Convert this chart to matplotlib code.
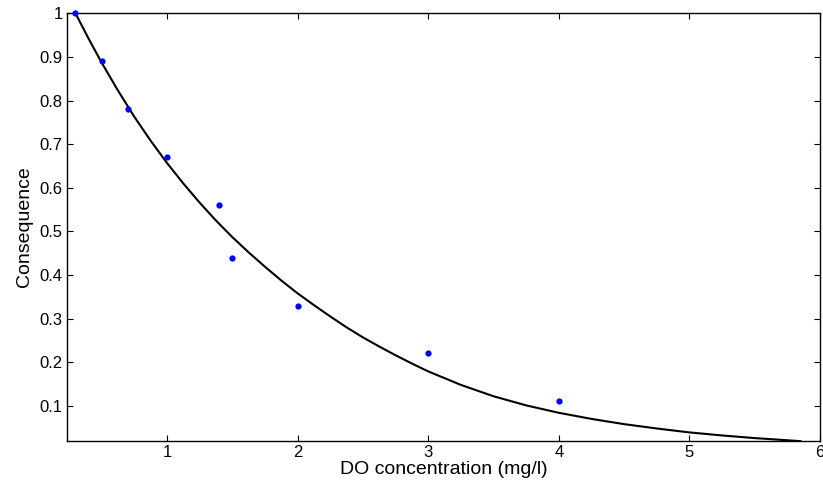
import matplotlib
matplotlib.use("Agg")
import matplotlib.pyplot as plt

plt.rcParams['font.family'] = ['Liberation Sans', 'DejaVu Sans']

# measured points
do_conc = [0.3, 0.5, 0.7, 1.0, 1.4, 1.5, 2.0, 3.0, 4.0]
consequence = [1.0, 0.89, 0.78, 0.67, 0.56, 0.44, 0.33, 0.22, 0.11]

# fitted curve
fit_x = [0.3, 0.4, 0.5, 0.625, 0.75, 0.875, 1.0, 1.125, 1.25, 1.375, 1.5,
         1.625, 1.75, 1.875, 2.0, 2.125, 2.25, 2.375, 2.5, 2.625, 2.75,
         2.875, 3.0, 3.25, 3.5, 3.75, 4.0, 4.25, 4.5, 4.75, 5.0, 5.25,
         5.5, 5.85]
fit_y = [1.0, 0.942, 0.887, 0.823, 0.763, 0.708, 0.657, 0.610, 0.566, 0.525,
         0.487, 0.452, 0.419, 0.3875, 0.358, 0.331, 0.305, 0.280, 0.257,
         0.236, 0.216, 0.197, 0.179, 0.148, 0.122, 0.101, 0.084, 0.070,
         0.058, 0.048, 0.039, 0.032, 0.026, 0.019]

xticks = [1, 2, 3, 4, 5, 6]
yticks = [0.1, 0.2, 0.3, 0.4, 0.5, 0.6, 0.7, 0.8, 0.9, 1]
ytick_labels = ['0.1', '0.2', '0.3', '0.4', '0.5', '0.6', '0.7', '0.8', '0.9', '1']

fig = plt.figure(figsize=(8.23, 4.84), dpi=100)
ax = fig.add_axes([67 / 823, 1 - 440.7 / 484, 753 / 823, 427.4 / 484])

ax.plot(fit_x, fit_y, color='black', linewidth=1.5, zorder=2)
ax.plot(do_conc, consequence, linestyle='none', marker='o', markersize=4.5,
        color='blue', markeredgewidth=0, zorder=3, clip_on=False)

ax.set_xlim(0.235, 6.0)
ax.set_ylim(0.02, 1.0)
ax.set_xticks(xticks)
ax.set_yticks(yticks)
ax.set_yticklabels(ytick_labels)

ax.tick_params(direction='in', length=4, width=0.8, top=True, right=True,
               labelsize=12, pad=3)
for s in ax.spines.values():
    s.set_linewidth(1.0)

ax.set_xlabel('DO concentration (mg/l)', fontsize=14, labelpad=1)
ax.set_ylabel('Consequence', fontsize=14, labelpad=5)

fig.savefig('out.png', dpi=100)
